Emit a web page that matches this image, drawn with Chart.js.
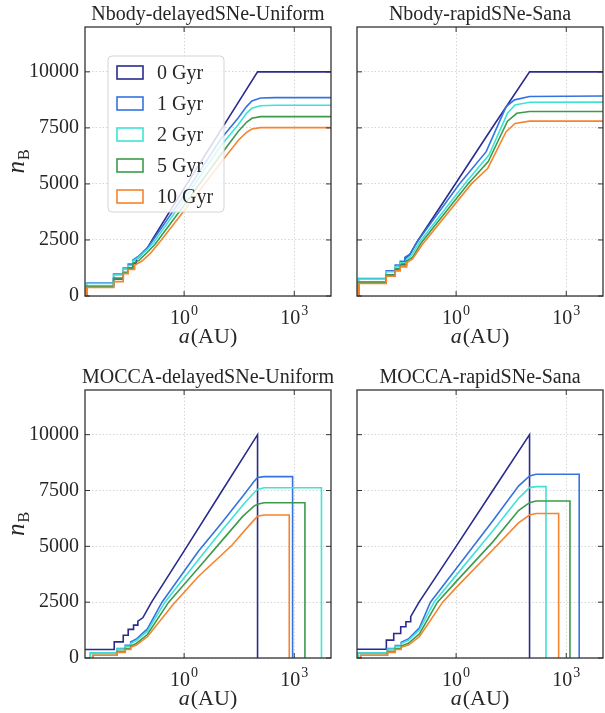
<!DOCTYPE html>
<html>
<head>
<meta charset="utf-8">
<script src="https://cdn.jsdelivr.net/npm/chart.js@4.4.1/dist/chart.umd.min.js"></script>
<style>
  body { margin: 0; background: #fff; }
  #wrap { position: relative; width: 605px; height: 713px; }
  canvas { position: absolute; }
</style>
</head>
<body>
<div id="wrap">
  <canvas id="c1" width="340" height="352" style="left:0;top:0"></canvas>
  <canvas id="c2" width="265" height="352" style="left:340px;top:0"></canvas>
  <canvas id="c3" width="340" height="361" style="left:0;top:352px"></canvas>
  <canvas id="c4" width="265" height="361" style="left:340px;top:352px"></canvas>
</div>
<script>
// datos: [a (AU), n_B]
const edades = ['0 Gyr', '1 Gyr', '2 Gyr', '5 Gyr', '10 Gyr'];
const colores = ['#2b2b8f', '#3473e0', '#3fe3d6', '#3c9b4a', '#f5842e'];
const xTicks = [1, 1000];
const yTicks = [0, 2500, 5000, 7500, 10000];

// Nbody-delayedSNe-Uniform
const nbDel0 = [[0.0022,0],[0.0022,420],[0.012,420],[0.012,760],[0.022,760],[0.022,1050],[0.03,1050],[0.03,1250],[0.04,1250],[0.04,1450],[0.05,1450],[0.05,1650],[0.065,1800],[0.1,2150],[0.14,2550],[1,4800],[10,7400],[100,10000],[10000,10000]];
const nbDel1 = [[0.0022,0],[0.0022,580],[0.012,580],[0.012,980],[0.022,980],[0.022,1250],[0.03,1250],[0.03,1420],[0.04,1420],[0.04,1600],[0.055,1750],[0.1,2150],[0.14,2480],[1,4500],[10,7000],[30,7950],[50,8450],[70,8700],[120,8830],[300,8850],[10000,8850]];
const nbDel2 = [[0.0022,0],[0.0022,560],[0.012,560],[0.012,940],[0.022,940],[0.022,1200],[0.03,1200],[0.03,1360],[0.04,1360],[0.04,1550],[0.055,1700],[0.1,2080],[0.15,2400],[1,4300],[10,6700],[30,7650],[50,8150],[70,8380],[120,8490],[300,8510],[10000,8510]];
const nbDel5 = [[0.0022,0],[0.0022,430],[0.012,430],[0.012,800],[0.022,800],[0.022,1050],[0.03,1050],[0.03,1250],[0.04,1250],[0.04,1450],[0.06,1600],[0.1,1950],[0.16,2300],[1,4050],[10,6300],[30,7350],[50,7750],[70,7930],[120,8000],[10000,8000]];
const nbDel10 = [[0.0022,0],[0.0022,380],[0.012,380],[0.012,640],[0.022,640],[0.022,1000],[0.03,1000],[0.03,1180],[0.045,1180],[0.045,1380],[0.07,1550],[0.12,1900],[0.24,2500],[1,3800],[10,5950],[30,6950],[50,7300],[70,7450],[120,7510],[10000,7510]];

// Nbody-rapidSNe-Sana
const nbRap0 = [[0.0022,0],[0.0022,600],[0.0125,600],[0.0125,940],[0.022,940],[0.022,1200],[0.03,1200],[0.03,1420],[0.04,1420],[0.04,1650],[0.055,1850],[0.085,2400],[1,5050],[10,7550],[100,10000],[10000,10000]];
const nbRap1 = [[0.0022,0],[0.0022,780],[0.0125,780],[0.0125,1120],[0.022,1120],[0.022,1380],[0.03,1380],[0.03,1550],[0.04,1550],[0.04,1720],[0.055,1870],[0.09,2450],[1.23,5000],[6.6,6440],[23,8450],[39,8750],[100,8900],[10000,8920]];
const nbRap2 = [[0.0022,0],[0.0022,760],[0.0125,760],[0.0125,1080],[0.022,1080],[0.022,1300],[0.03,1300],[0.03,1480],[0.045,1480],[0.045,1650],[0.06,1800],[0.1,2400],[1.7,5000],[7.9,6300],[25,8150],[40,8520],[100,8640],[10000,8650]];
const nbRap5 = [[0.0022,0],[0.0022,620],[0.0125,620],[0.0125,940],[0.022,940],[0.022,1200],[0.03,1200],[0.03,1380],[0.045,1380],[0.045,1560],[0.065,1720],[0.11,2350],[2.1,5000],[7.5,6000],[25,7800],[45,8150],[100,8230],[10000,8230]];
const nbRap10 = [[0.0022,0],[0.0022,560],[0.0125,560],[0.0125,880],[0.022,880],[0.022,1120],[0.03,1120],[0.03,1300],[0.045,1300],[0.045,1480],[0.065,1650],[0.12,2300],[2.6,5000],[7.3,5700],[23,7330],[40,7700],[100,7800],[10000,7800]];

// MOCCA-delayedSNe-Uniform
const moDel0 = [[0.002,380],[0.0125,380],[0.0125,720],[0.022,720],[0.022,1020],[0.03,1020],[0.03,1280],[0.042,1280],[0.042,1470],[0.055,1470],[0.055,1650],[0.075,1800],[0.13,2500],[1.2,5000],[10,7400],[100,10000],[100,0]];
const moDel1 = [[0.0028,0],[0.0028,220],[0.015,220],[0.015,420],[0.025,420],[0.025,570],[0.035,570],[0.035,720],[0.05,850],[0.1,1300],[0.25,2500],[2.45,4775],[10,6000],[40,7250],[80,7900],[100,8080],[150,8120],[900,8120],[900,0]];
const moDel2 = [[0.0028,0],[0.0028,220],[0.015,220],[0.015,400],[0.025,400],[0.025,520],[0.035,520],[0.035,650],[0.05,780],[0.1,1200],[0.3,2500],[2.45,4400],[10,5650],[40,6850],[80,7400],[100,7550],[150,7620],[5500,7620],[5500,0]];
const moDel5 = [[0.0033,0],[0.0033,120],[0.015,120],[0.015,300],[0.025,300],[0.025,420],[0.035,420],[0.035,540],[0.05,650],[0.1,1050],[0.38,2500],[2.45,4030],[10,5200],[40,6350],[80,6800],[100,6880],[150,6950],[1950,6950],[1950,0]];
const moDel10 = [[0.0033,0],[0.0033,120],[0.015,120],[0.015,250],[0.025,250],[0.025,380],[0.035,380],[0.035,480],[0.05,580],[0.1,950],[0.5,2400],[2.45,3650],[20,5050],[60,5950],[100,6350],[150,6400],[730,6400],[730,0]];

// MOCCA-rapidSNe-Sana
const moRap0 = [[0.002,390],[0.0126,390],[0.0126,800],[0.02,800],[0.02,1100],[0.031,1100],[0.031,1400],[0.043,1400],[0.043,1620],[0.058,1620],[0.058,1850],[0.098,2500],[1,5000],[10,7500],[100,10000],[100,0]];
const moRap1 = [[0.0021,0],[0.0021,225],[0.0135,225],[0.0135,420],[0.022,420],[0.022,560],[0.032,560],[0.032,700],[0.05,850],[0.1,1350],[0.2,2500],[1,4000],[10,6150],[50,7700],[100,8150],[150,8230],[2250,8230],[2250,0]];
const moRap2 = [[0.0021,0],[0.0021,225],[0.0135,225],[0.0135,400],[0.022,400],[0.022,520],[0.032,520],[0.032,650],[0.05,790],[0.1,1250],[0.25,2500],[1,3700],[10,5700],[50,7150],[100,7630],[150,7675],[280,7675],[280,0]];
const moRap5 = [[0.0025,0],[0.0025,120],[0.0135,120],[0.0135,300],[0.022,300],[0.022,420],[0.032,420],[0.032,540],[0.05,660],[0.1,1080],[0.31,2500],[1,3420],[10,5200],[50,6600],[100,6955],[150,7030],[1260,7030],[1260,0]];
const moRap10 = [[0.0025,0],[0.0025,120],[0.0135,120],[0.0135,250],[0.022,250],[0.022,380],[0.032,380],[0.032,480],[0.05,580],[0.1,950],[0.43,2500],[1,3150],[10,4850],[50,6050],[100,6400],[150,6470],[620,6470],[620,0]];

const serif = '"Liberation Serif", "Times New Roman", serif';
const tinta = '#262626';

function linea(ctx, x1, y1, x2, y2) {
  ctx.beginPath();
  ctx.moveTo(x1, y1);
  ctx.lineTo(x2, y2);
  ctx.stroke();
}

// titulo, marco, ticks hacia dentro, etiquetas de ejes y leyenda
const panelPlugin = {
  id: 'panel',
  afterDatasetsDraw(chart, args, opts) {
    if (!opts.leyenda) return;
    const ctx = chart.ctx;
    const ca = chart.chartArea;
    const bx = ca.left + 23, by = ca.top + 29, bw = 116, bh = 156;
    ctx.save();
    ctx.beginPath();
    ctx.roundRect(bx, by, bw, bh, 4);
    ctx.fillStyle = 'rgba(255,255,255,0.82)';
    ctx.fill();
    ctx.strokeStyle = '#d4d4d4';
    ctx.lineWidth = 1;
    ctx.stroke();
    chart.data.datasets.forEach((ds, i) => {
      const cy = by + 16.5 + i * 31;
      ctx.strokeStyle = ds.borderColor;
      ctx.lineWidth = 1.6;
      ctx.strokeRect(bx + 9, cy - 6.5, 26, 13);
      ctx.fillStyle = tinta;
      ctx.font = '20px ' + serif;
      ctx.textAlign = 'left';
      ctx.textBaseline = 'middle';
      ctx.fillText(ds.label, bx + 49, cy + 1);
    });
    ctx.restore();
  },
  afterDraw(chart, args, opts) {
    const ctx = chart.ctx;
    const ca = chart.chartArea;
    const sx = chart.scales.x, sy = chart.scales.y;
    const cx = (ca.left + ca.right) / 2;
    ctx.save();
    // marco
    ctx.strokeStyle = '#333';
    ctx.lineWidth = 1.3;
    ctx.strokeRect(ca.left, ca.top, ca.right - ca.left, ca.bottom - ca.top);
    // ticks hacia dentro
    ctx.lineWidth = 1;
    sy.ticks.forEach(t => {
      const py = sy.getPixelForValue(t.value);
      linea(ctx, ca.left, py, ca.left + 5, py);
      linea(ctx, ca.right, py, ca.right - 5, py);
    });
    sx.ticks.forEach(t => {
      const px = sx.getPixelForValue(t.value);
      linea(ctx, px, ca.bottom, px, ca.bottom - 5);
      linea(ctx, px, ca.top, px, ca.top + 5);
    });
    // etiquetas 10^n
    ctx.fillStyle = tinta;
    ctx.textAlign = 'left';
    ctx.textBaseline = 'alphabetic';
    sx.ticks.forEach(t => {
      const px = sx.getPixelForValue(t.value);
      const exp = String(Math.round(Math.log10(t.value)));
      ctx.font = '20px ' + serif;
      const w1 = ctx.measureText('10').width;
      ctx.font = '14px ' + serif;
      const w2 = ctx.measureText(exp).width;
      const x0 = px - (w1 + w2 + 1) / 2;
      ctx.font = '20px ' + serif;
      ctx.fillText('10', x0, ca.bottom + 28);
      ctx.font = '14px ' + serif;
      ctx.fillText(exp, x0 + w1 + 1, ca.bottom + 19);
    });
    // titulo
    ctx.textAlign = 'center';
    ctx.font = '20px ' + serif;
    ctx.fillText(opts.titulo, cx, ca.top - 7);
    // a(AU)
    ctx.textAlign = 'left';
    ctx.font = 'italic 22px ' + serif;
    const wa = ctx.measureText('a').width;
    ctx.font = '22px ' + serif;
    const wb = ctx.measureText('(AU)').width;
    const xa = cx - (wa + wb + 1) / 2;
    ctx.font = 'italic 22px ' + serif;
    ctx.fillText('a', xa, ca.bottom + 47);
    ctx.font = '22px ' + serif;
    ctx.fillText('(AU)', xa + wa + 1, ca.bottom + 47);
    // n_B
    if (opts.ejeY) {
      const cy = (ca.top + ca.bottom) / 2;
      ctx.translate(24, cy);
      ctx.rotate(-Math.PI / 2);
      ctx.font = 'italic 25px ' + serif;
      const wn = ctx.measureText('n').width;
      ctx.font = '16px ' + serif;
      const wB = ctx.measureText('B').width;
      const x0 = -(wn + wB + 1) / 2;
      ctx.font = 'italic 25px ' + serif;
      ctx.fillText('n', x0, 0);
      ctx.font = '16px ' + serif;
      ctx.fillText('B', x0 + wn + 1, 5);
    }
    ctx.restore();
  }
};

function crearPanel(id, titulo, series, opciones) {
  const rejilla = { color: '#d6d6d6', lineWidth: 1, drawTicks: false };
  const borde = { display: false, dash: [1.5, 2] };
  new Chart(document.getElementById(id), {
    type: 'line',
    data: {
      datasets: series.map((s, i) => ({
        label: edades[i],
        data: s,
        borderColor: colores[i],
        borderWidth: 1.6,
        pointRadius: 0,
        fill: false,
        tension: 0,
        order: -i
      }))
    },
    options: {
      responsive: false,
      animation: false,
      devicePixelRatio: 1,
      layout: { padding: { top: opciones.arriba, right: opciones.derecha, left: 0, bottom: 0 } },
      plugins: {
        legend: { display: false },
        tooltip: { enabled: false },
        panel: { titulo: titulo, ejeY: opciones.ejeY, leyenda: opciones.leyenda }
      },
      scales: {
        x: {
          type: 'logarithmic',
          min: 0.002,
          max: 10000,
          afterBuildTicks: s => { s.ticks = xTicks.map(v => ({ value: v })); },
          afterFit: s => { s.height = opciones.abajo; },
          ticks: { display: false },
          grid: rejilla,
          border: borde
        },
        y: {
          type: 'linear',
          min: 0,
          max: 12000,
          afterBuildTicks: s => { s.ticks = yTicks.map(v => ({ value: v })); },
          afterFit: s => { s.width = opciones.ejeY ? 85 : 17; },
          ticks: {
            display: opciones.ejeY,
            padding: 6,
            color: tinta,
            font: { family: serif, size: 20 },
            callback: v => String(v)
          },
          grid: rejilla,
          border: borde
        }
      }
    },
    plugins: [panelPlugin]
  });
}

window.onload = function() {
  crearPanel('c1', 'Nbody-delayedSNe-Uniform', [nbDel0, nbDel1, nbDel2, nbDel5, nbDel10],
    { arriba: 27, derecha: 9, abajo: 56, ejeY: true, leyenda: true });
  crearPanel('c2', 'Nbody-rapidSNe-Sana', [nbRap0, nbRap1, nbRap2, nbRap5, nbRap10],
    { arriba: 27, derecha: 2, abajo: 56, ejeY: false, leyenda: false });
  crearPanel('c3', 'MOCCA-delayedSNe-Uniform', [moDel0, moDel1, moDel2, moDel5, moDel10],
    { arriba: 38, derecha: 9, abajo: 55, ejeY: true, leyenda: false });
  crearPanel('c4', 'MOCCA-rapidSNe-Sana', [moRap0, moRap1, moRap2, moRap5, moRap10],
    { arriba: 38, derecha: 2, abajo: 55, ejeY: false, leyenda: false });
};
</script>
</body>
</html>
